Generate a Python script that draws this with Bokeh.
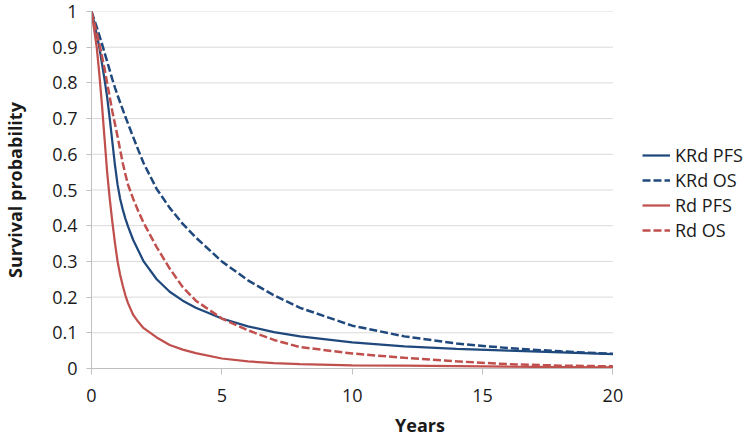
from bokeh.plotting import figure
from bokeh.models import Range1d, FixedTicker, Legend, LegendItem
from bokeh.embed import file_html
from bokeh.resources import INLINE

# ---- data ----
years = [0, 0.1, 0.2, 0.3, 0.4, 0.5, 0.6, 0.7, 0.8, 0.9, 1.0, 1.1, 1.2, 1.3, 1.4, 1.6,
         1.8, 2.0, 2.5, 3.0, 3.5, 4.0, 5, 6, 7, 8, 10, 12, 14, 16, 18, 20]
krd_pfs = [1.0, 0.97, 0.935, 0.9, 0.855, 0.81, 0.76, 0.7, 0.635, 0.57, 0.515, 0.475,
           0.445, 0.42, 0.398, 0.36, 0.33, 0.3, 0.25, 0.215, 0.19, 0.17, 0.14, 0.118,
           0.102, 0.09, 0.073, 0.062, 0.055, 0.05, 0.045, 0.04]
krd_os = [1.0, 0.978, 0.956, 0.933, 0.91, 0.885, 0.86, 0.835, 0.81, 0.787, 0.765, 0.745,
          0.725, 0.705, 0.686, 0.648, 0.611, 0.575, 0.503, 0.45, 0.405, 0.367, 0.3, 0.247,
          0.205, 0.17, 0.12, 0.09, 0.07, 0.057, 0.048, 0.041]
rd_pfs = [1.0, 0.95, 0.9, 0.825, 0.74, 0.645, 0.55, 0.475, 0.41, 0.352, 0.3, 0.262,
          0.232, 0.205, 0.183, 0.15, 0.13, 0.113, 0.087, 0.066, 0.053, 0.043, 0.028,
          0.02, 0.015, 0.012, 0.009, 0.008, 0.007, 0.005, 0.004, 0.003]
rd_os = [1.0, 0.97, 0.94, 0.91, 0.875, 0.84, 0.8, 0.76, 0.72, 0.685, 0.65, 0.612,
         0.575, 0.544, 0.515, 0.475, 0.44, 0.408, 0.34, 0.28, 0.228, 0.19, 0.14, 0.107,
         0.08, 0.06, 0.042, 0.03, 0.02, 0.012, 0.008, 0.006]

series_names = ["KRd PFS", "KRd OS", "Rd PFS", "Rd OS"]
x_ticks = [0, 5, 10, 15, 20]
y_ticks = [0, 0.1, 0.2, 0.3, 0.4, 0.5, 0.6, 0.7, 0.8, 0.9, 1]
y_tick_labels = ["0", "0.1", "0.2", "0.3", "0.4", "0.5", "0.6", "0.7", "0.8", "0.9", "1"]
x_title = "Years"
y_title = "Survival probability"

# ---- styling / layout ----
BLUE = "#1F497D"
RED = "#C0504D"
GRID = "#D9D9D9"
AXIS = "#BFBFBF"
TEXT = "#1A1A1A"
FONT = "Open Sans"
W, H = 748, 445
LEFT, TOP, BOTTOM = 89, 11, 77
X_DATA_END = 20
PX_PER_YEAR = 523 / 20.0
X_VIEW_END = (W - LEFT) / PX_PER_YEAR   # extra room on the right for the legend

p = figure(width=W, height=H, output_backend="svg", toolbar_location=None,
           x_range=Range1d(0, X_VIEW_END), y_range=Range1d(0, 1),
           min_border_left=LEFT, min_border_right=0, min_border_top=TOP,
           min_border_bottom=BOTTOM)
p.outline_line_color = None
p.background_fill_color = "white"
p.border_fill_color = "white"

# horizontal gridlines only across the data span 0..20
p.xgrid.visible = False
p.ygrid.visible = False
p.segment(x0=[0] * len(y_ticks), y0=y_ticks, x1=[X_DATA_END] * len(y_ticks), y1=y_ticks,
          line_color=GRID, line_width=1)

r1 = p.line(years, krd_pfs, line_color=BLUE, line_width=2.25)
r2 = p.line(years, krd_os, line_color=BLUE, line_width=2.5, line_dash="8 3")
r3 = p.line(years, rd_pfs, line_color=RED, line_width=2.25)
r4 = p.line(years, rd_os, line_color=RED, line_width=2.5, line_dash="8 3")

xa = p.xaxis[0]
xa.ticker = FixedTicker(ticks=x_ticks)
xa.bounds = (0, X_DATA_END)
xa.axis_line_color = AXIS
xa.major_tick_line_color = AXIS
xa.major_tick_out = 6
xa.major_tick_in = 0
xa.minor_tick_line_color = None
xa.major_label_standoff = 14
xa.major_label_text_font = FONT
xa.major_label_text_font_size = "18px"
xa.major_label_text_color = TEXT
xa.axis_label = x_title
xa.axis_label_text_font = FONT
xa.axis_label_text_font_size = "18px"
xa.axis_label_text_font_style = "bold"
xa.axis_label_text_color = TEXT
xa.axis_label_standoff = 8

ya = p.yaxis[0]
ya.ticker = FixedTicker(ticks=y_ticks)
ya.major_label_overrides = dict(zip(y_ticks, y_tick_labels))
ya.axis_line_color = AXIS
ya.major_tick_line_color = AXIS
ya.major_tick_out = 5
ya.major_tick_in = 0
ya.minor_tick_line_color = None
ya.major_label_standoff = 9
ya.major_label_text_font = FONT
ya.major_label_text_font_size = "18px"
ya.major_label_text_color = TEXT
ya.axis_label = y_title
ya.axis_label_text_font = FONT
ya.axis_label_text_font_size = "18px"
ya.axis_label_text_font_style = "bold"
ya.axis_label_text_color = TEXT
ya.axis_label_standoff = 22

legend = Legend(items=[LegendItem(label=n, renderers=[r]) for n, r in
                       zip(series_names, [r1, r2, r3, r4])],
                location=(551, 126), orientation="vertical")
legend.border_line_color = None
legend.background_fill_alpha = 0
legend.label_text_font = FONT
legend.label_text_font_size = "18px"
legend.label_text_color = TEXT
legend.glyph_width = 28
legend.glyph_height = 20
legend.label_height = 24
legend.label_standoff = 5
legend.spacing = 1
legend.padding = 0
legend.margin = 0
p.add_layout(legend, "center")

open("out.html", "w").write(file_html(p, INLINE))
